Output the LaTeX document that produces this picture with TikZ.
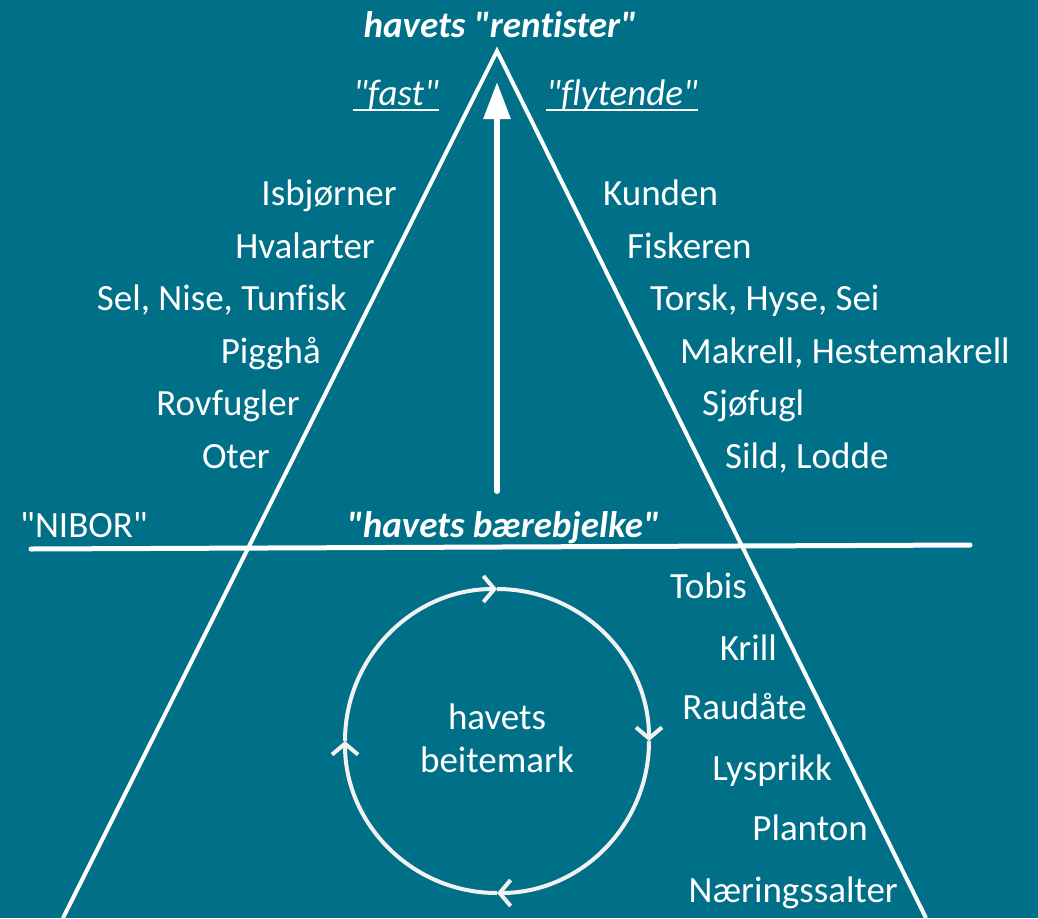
\documentclass[tikz,border=0pt]{standalone}
\usepackage{fontspec}
\setmainfont{Carlito}[Ligatures=NoCommon]
\usetikzlibrary{arrows.meta}
\definecolor{bg}{RGB}{0,112,136}
\definecolor{ringc}{RGB}{242,242,242}
\newcommand\dq{\textquotedbl}
\begin{document}
\begin{tikzpicture}[x=1pt,y=-1pt,
  lbl/.style={text=white,inner sep=0pt,font=\fontsize{37}{40}\selectfont},
  lblL/.style={lbl,anchor=base east},
  lblR/.style={lbl,anchor=base west},
  head/.style={lbl,anchor=base,font=\fontsize{37}{40}\selectfont\bfseries\itshape},
  edge/.style={draw=white,line width=4pt,line join=miter},
  ring/.style={draw=ringc,line width=4pt,-{Straight Barb[length=11pt,width=26pt,line width=4pt]}}
]
\useasboundingbox[fill=bg] (0,0) rectangle (1038,918);
% triangle
\coordinate (apex) at (497,51);
\coordinate (bl) at (63,918);
\coordinate (br) at (926,918);
\draw[edge] (bl) -- (apex) -- (br);
% horizontal line
\coordinate (hl) at (31,549);
\coordinate (hr) at (970,545);
\draw[white,line width=5pt,line cap=round] (hl) -- (hr);
% up arrow
\coordinate (abot) at (497,491);
\coordinate (atop) at (497,82);
\draw[white,line width=6pt,line cap=round,-{Triangle[length=37pt,width=26pt]}] (abot) -- (atop);
% titles
\node[head] (title) at (500,37) {havets \dq rentister\dq};
\node[head] (beam) at (503,537) {\dq havets bærebjelke\dq};
\node[lblR] (nibor) at (20,537) {\dq NIBOR\dq};
\node[lbl,anchor=base,font=\fontsize{37}{40}\selectfont\itshape] (fast) at (396,105) {\dq fast\dq};
\node[lbl,anchor=base,font=\fontsize{37}{40}\selectfont\itshape] (flyt) at (622,105) {\dq flytende\dq};
\draw[white,line width=1.8pt] ([yshift=-5pt]fast.base west) -- ([yshift=-5pt]fast.base east);
\draw[white,line width=1.8pt] ([yshift=-5pt]flyt.base west) -- ([yshift=-5pt]flyt.base east);
% left list
\node[lblL] (l1) at (397,205) {Isbjørner};
\node[lblL] (l2) at (375,258) {Hvalarter};
\node[lblL] (l3) at (347,310) {Sel, Nise, Tunfisk};
\node[lblL] (l4) at (321,363) {Pigghå};
\node[lblL] (l5) at (300,415) {Rovfugler};
\node[lblL] (l6) at (270,468) {Oter};
% right list
\node[lblR] (r1) at (603,205) {Kunden};
\node[lblR] (r2) at (627,258) {Fiskeren};
\node[lblR] (r3) at (650,310) {Torsk, Hyse, Sei};
\node[lblR] (r4) at (680,363) {Makrell, Hestemakrell};
\node[lblR] (r5) at (702,415) {Sjøfugl};
\node[lblR] (r6) at (725,468) {Sild, Lodde};
% lower right list
\node[lblL] (b1) at (747,598) {Tobis};
\node[lblL] (b2) at (777,660) {Krill};
\node[lblL] (b3) at (807,719) {Raudåte};
\node[lblL] (b4) at (832,780) {Lysprikk};
\node[lblL] (b5) at (868,840) {Planton};
\node[lblL] (b6) at (898,902) {Næringssalter};
% cycle
\coordinate (cc) at (497,741);
\node[lbl,align=center,anchor=center,font=\fontsize{37}{43}\selectfont] (graze) at (497,738) {havets\\beitemark};
\draw[ring] ([shift={(180:152)}]cc) arc[start angle=180,end angle=270,radius=152];
\draw[ring] ([shift={(270:152)}]cc) arc[start angle=270,end angle=360,radius=152];
\draw[ring] ([shift={(0:152)}]cc) arc[start angle=0,end angle=90,radius=152];
\draw[ring] ([shift={(90:152)}]cc) arc[start angle=90,end angle=180,radius=152];
\end{tikzpicture}
\end{document}
